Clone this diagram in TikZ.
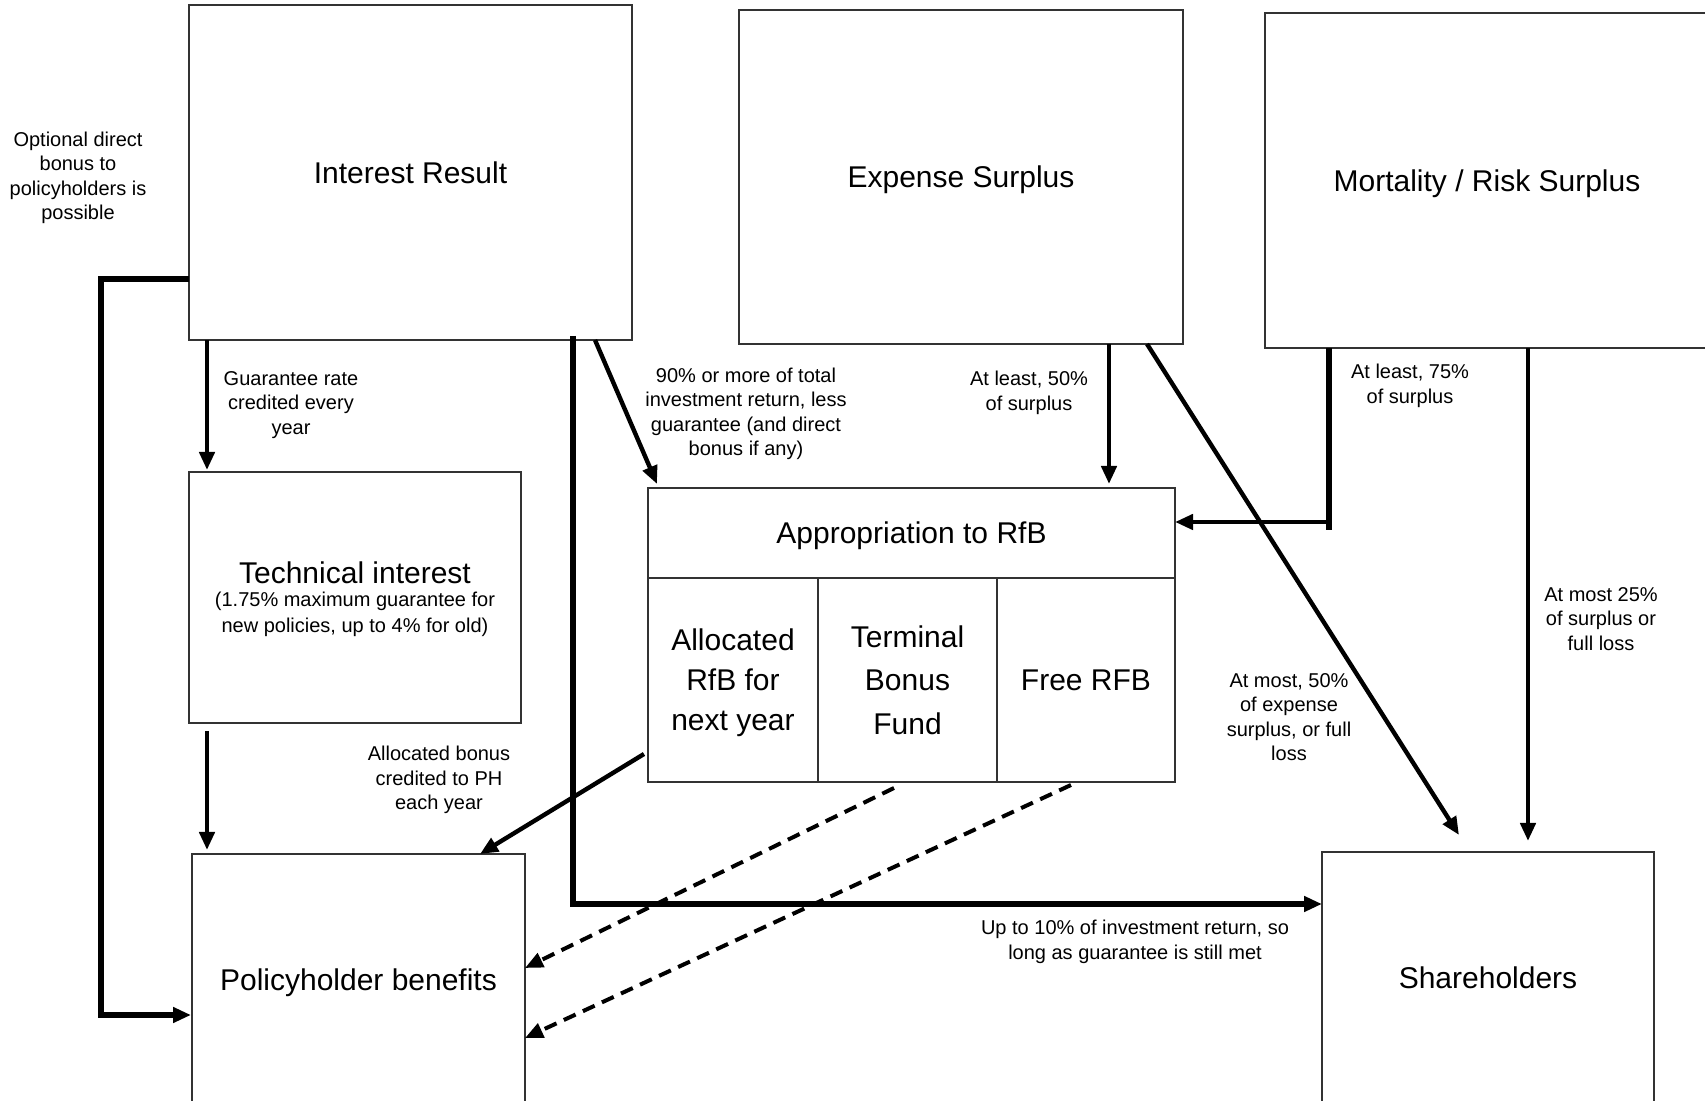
\documentclass[tikz,border=0pt]{standalone}
\usepackage{fontspec}
\setmainfont{Liberation Sans}
\usetikzlibrary{positioning,calc,arrows.meta}

\begin{document}
\begin{tikzpicture}[x=0.5pt,y=-0.5pt,
box/.style={draw=black!80,line width=0.75pt,outer sep=0pt,align=center,
  text depth=0pt,font=\fontsize{15}{18}\selectfont},
cell/.style={box,minimum height=102pt,font=\fontsize{15}{20}\selectfont},
note/.style={align=center,inner sep=0pt,yshift=-1.5pt,font=\fontsize{10}{12.2}\selectfont},
flow/.style={line width=2.2pt,-{Triangle[length=9pt,width=7.5pt]}},
bigflow/.style={flow,line width=3.2pt},
spare/.style={flow,line width=2pt,dash pattern=on 6.5pt off 4pt}]
\useasboundingbox (0,0) rectangle (1705,1101);
\clip (0,0) rectangle (1705,1101);

% sources of surplus
\node[box,minimum width=221.5pt,minimum height=167.5pt] (IR) at (410.5,172.5) {Interest Result};
\node[box,minimum width=222pt,minimum height=167pt] (ES) at (961,177) {Expense Surplus};
\node[box,minimum width=222pt,minimum height=167.5pt] (MR) at (1487,180.5) {Mortality / Risk Surplus};

\node[box,minimum width=166pt,minimum height=125.5pt,text depth=-2pt,font=\fontsize{10}{13}\selectfont] (TI) at (355,597.5)
{{\fontsize{15}{13}\selectfont Technical interest}\\[-1.5pt](1.75\% maximum guarantee for\\new policies, up to 4\% for old)};

% RfB split in three
\node[box,minimum width=263.5pt,minimum height=45pt] (AP) at (911.5,533) {Appropriation to RfB};
\node[cell,minimum width=85pt,anchor=north west] (AL) at (AP.south west) {Allocated\\RfB for\\next year};
\node[cell,minimum width=89.5pt,right=0pt of AL,font=\fontsize{15}{21.7}\selectfont] (TB) {Terminal\\Bonus\\Fund};
\node[cell,minimum width=89pt,right=0pt of TB] (FR) {Free RFB};

% who gets it
\node[box,minimum width=166.5pt,minimum height=126pt] (PH) at (358.5,980) {Policyholder benefits};
\node[box,minimum width=166pt,minimum height=126pt] (SH) at (1488,978) {Shareholders};

\draw[flow] ($(IR.south west)+(18,0)$) -- ($(TI.north west)+(18,-2)$);
\draw[flow] ($(TI.south west)+(18,8)$) -- ($(PH.north west)+(15,-4)$);
\draw[bigflow] ($(IR.south west)+(0,-61)$) -- ++(-88,0) |- ($(PH.west)+(-1,35)$);
\draw[flow] ($(IR.south west)+(406,0)$) -- ($(AP.north west)+(9,-4)$);
\draw[bigflow] ($(IR.south west)+(384,-4)$) |- ($(SH.west)+(0,-74)$);

\draw[flow] ($(ES.south west)+(370,0)$) -- ($(AP.north west)+(461,-4)$);
\draw[flow] ($(ES.south west)+(408,0)$) -- ($(SH.north west)+(137,-17)$);

\draw[line width=2.6pt] ($(MR.south west)+(64,0)$) -- ++(0,182);
\draw[flow] ($(MR.south west)+(64,174)$) -- ($(AP.north east)+(0,34)$);
\draw[flow] ($(MR.south west)+(263,0)$) -- ($(SH.north west)+(206,-11)$);

\draw[flow] ($(AL.south west)+(-4,-28)$) -- ($(PH.north west)+(288,0)$);
\draw[spare] ($(TB.south west)+(76,6)$) -- ($(PH.north east)+(0,114)$);
\draw[spare] ($(FR.south west)+(74,3)$) -- ($(PH.north east)+(0,184)$);

% arrow labels
\node[note] (opt) at (78,175) {Optional direct\\bonus to\\policyholders is\\possible};
\node[note] (guar) at (291,402) {Guarantee rate\\credited every\\year};
\node[note] (inv) at (746,411) {90\% or more of total\\investment return, less\\guarantee (and direct\\bonus if any)};
\node[note] (exp) at (1029,390) {At least, 50\%\\of surplus};
\node[note] (mort) at (1410,383) {At least, 75\%\\of surplus};
\node[note] (mloss) at (1601,616) {At most 25\%\\of surplus or\\full loss};
\node[note] (eloss) at (1289,714) {At most, 50\%\\of expense\\surplus, or full\\loss};
\node[note] (bon) at (439,777) {Allocated bonus\\credited to PH\\each year};
\node[note] (share) at (1135,939) {Up to 10\% of investment return, so\\long as guarantee is still met};
\end{tikzpicture}
\end{document}
